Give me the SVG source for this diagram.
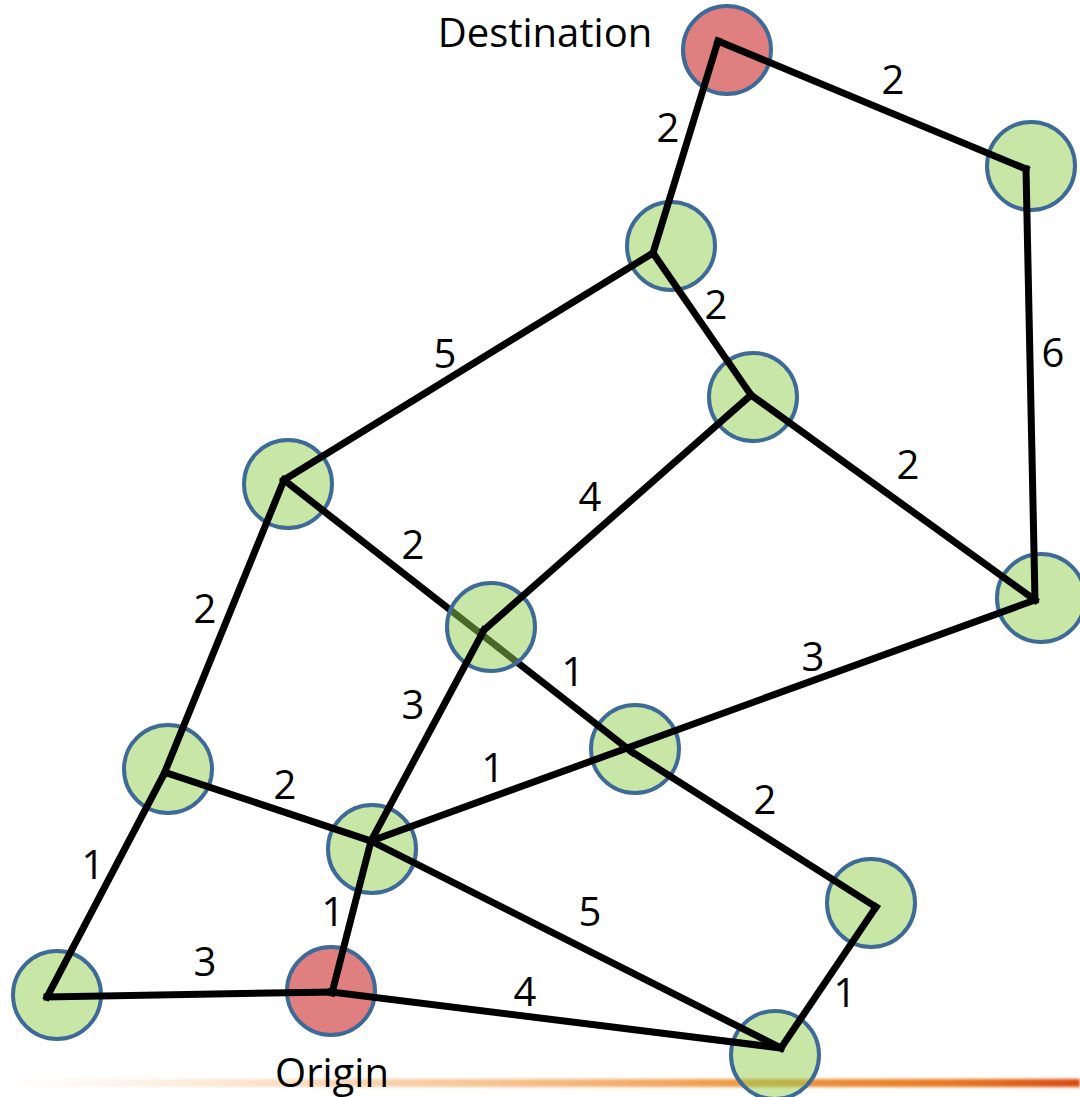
<svg xmlns="http://www.w3.org/2000/svg" width="1080" height="1097" viewBox="0 0 1080 1097">
<style>
.n{fill:#92D050;fill-opacity:0.5;stroke:#3E6A98;stroke-width:4}
.r{fill:#C00000;fill-opacity:0.5;stroke:#3E6A98;stroke-width:4}
.e{stroke:#000;stroke-width:7;fill:none;stroke-linecap:square}
.t{font-family:"Open Sans","Noto Sans",sans-serif;font-size:40px;fill:#000;text-anchor:middle}
</style>
<defs>
<linearGradient id="band" x1="0" y1="0" x2="1080" y2="0" gradientUnits="userSpaceOnUse">
<stop offset="0" stop-color="#F8D8B8" stop-opacity="0"/>
<stop offset="0.3" stop-color="#F6C89A" stop-opacity="0.7"/>
<stop offset="0.65" stop-color="#F0A050"/>
<stop offset="0.88" stop-color="#E87A20"/>
<stop offset="1" stop-color="#D94A10"/>
</linearGradient>
<filter id="blur" x="-5%" y="-100%" width="110%" height="300%"><feGaussianBlur stdDeviation="1.5"/></filter>
</defs>
<rect x="0" y="1079" width="1080" height="8" fill="url(#band)" filter="url(#blur)"/>
<g id="nodes">
<g id="destination"><circle class="r" cx="727" cy="50" r="44"/></g>
<g id="n2"><circle class="n" cx="1031" cy="166" r="44"/></g>
<g id="n3"><circle class="n" cx="671" cy="246" r="44"/></g>
<g id="n4"><circle class="n" cx="753" cy="397" r="44"/></g>
<g id="n5"><circle class="n" cx="288" cy="484" r="44"/></g>
<g id="n7"><circle class="n" cx="1041" cy="598" r="44"/></g>
<g id="n8"><circle class="n" cx="635" cy="749" r="44"/></g>
<g id="n9"><circle class="n" cx="168" cy="769" r="44"/></g>
<g id="n10"><circle class="n" cx="372" cy="849" r="44"/></g>
<g id="n11"><circle class="n" cx="871" cy="903" r="44"/></g>
<g id="n12"><circle class="n" cx="57" cy="995" r="44"/></g>
<g id="origin"><circle class="r" cx="331" cy="991" r="44"/></g>
<g id="n14"><circle class="n" cx="775" cy="1055" r="44"/></g>
</g>
<g id="connector-under">
<line class="e" x1="284" y1="480" x2="632" y2="752"/>
</g>
<g id="n6"><circle class="n" cx="491" cy="627" r="44"/></g>
<g id="connectors">
<line class="e" x1="718" y1="41" x2="1026" y2="169"/>
<line class="e" x1="718" y1="41" x2="653" y2="253"/>
<line class="e" x1="1026" y1="169" x2="1035" y2="600"/>
<line class="e" x1="653" y1="253" x2="284" y2="480"/>
<line class="e" x1="653" y1="253" x2="751" y2="395"/>
<line class="e" x1="751" y1="395" x2="1035" y2="600"/>
<line class="e" x1="751" y1="395" x2="484" y2="630"/>
<line class="e" x1="284" y1="480" x2="164" y2="774"/>
<line class="e" x1="164" y1="774" x2="47" y2="997"/>
<line class="e" x1="167" y1="773" x2="371" y2="841"/>
<line class="e" x1="632" y1="752" x2="876" y2="907"/>
<line class="e" x1="1035" y1="600" x2="371" y2="841"/>
<line class="e" x1="484" y1="630" x2="371" y2="841"/>
<line class="e" x1="371" y1="841" x2="332" y2="993"/>
<line class="e" x1="371" y1="841" x2="781" y2="1048"/>
<line class="e" x1="47" y1="997" x2="331" y2="992"/>
<line class="e" x1="331" y1="992" x2="781" y2="1048"/>
<line class="e" x1="781" y1="1048" x2="876" y2="907"/>
</g>
<g id="labels">
<text class="t" x="545" y="47">Destination</text>
<text class="t" x="332" y="1087">Origin</text>
<text class="t" x="893" y="94">2</text>
<text class="t" x="668" y="142">2</text>
<text class="t" x="1053" y="367">6</text>
<text class="t" x="445" y="368">5</text>
<text class="t" x="716" y="319">2</text>
<text class="t" x="908" y="479">2</text>
<text class="t" x="590" y="511">4</text>
<text class="t" x="413" y="559">2</text>
<text class="t" x="205" y="623">2</text>
<text class="t" x="573" y="686">1</text>
<text class="t" x="813" y="671">3</text>
<text class="t" x="413" y="719">3</text>
<text class="t" x="493" y="782">1</text>
<text class="t" x="285" y="799">2</text>
<text class="t" x="765" y="814">2</text>
<text class="t" x="93" y="879">1</text>
<text class="t" x="333" y="926">1</text>
<text class="t" x="590" y="926">5</text>
<text class="t" x="205" y="976">3</text>
<text class="t" x="525" y="1006">4</text>
<text class="t" x="845" y="1007">1</text>
</g>
</svg>
